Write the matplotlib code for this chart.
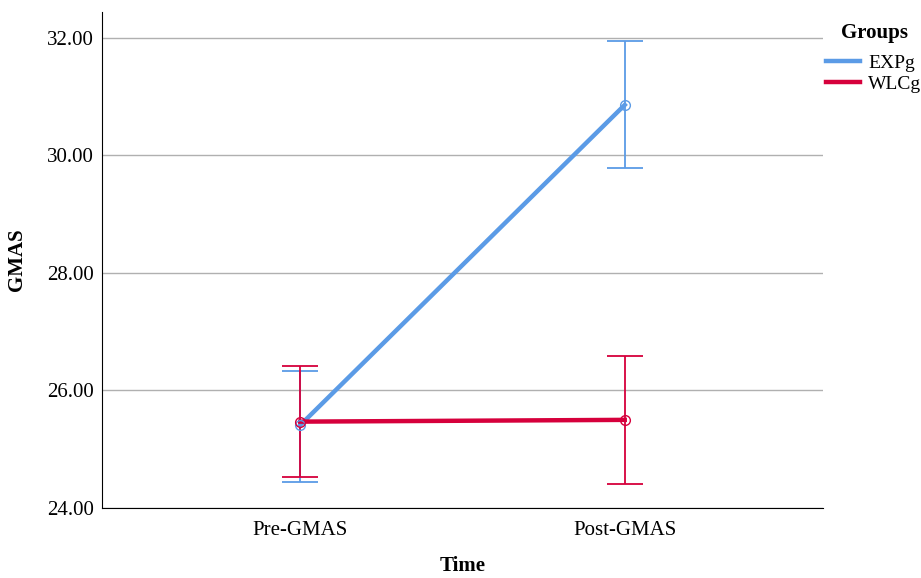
import matplotlib.pyplot as plt

plt.rcParams['font.family'] = ['Liberation Serif', 'DejaVu Serif']

time_labels = ["Pre-GMAS", "Post-GMAS"]
groups = ["EXPg", "WLCg"]
means = {"EXPg": [25.41, 30.86], "WLCg": [25.47, 25.50]}
ci_low = {"EXPg": [24.45, 29.79], "WLCg": [24.52, 24.41]}
ci_high = {"EXPg": [26.34, 31.94], "WLCg": [26.42, 26.58]}
colors = {"EXPg": "#5b9be6", "WLCg": "#d6003c"}
y_ticks = [24, 26, 28, 30, 32]

fig = plt.figure(figsize=(9.21, 5.78), dpi=100)
ax = fig.add_axes([0.1107, 0.1211, 0.7829, 0.858])

x = list(range(len(time_labels)))
for g in groups:
    m = means[g]
    lo = [m[i] - ci_low[g][i] for i in x]
    hi = [ci_high[g][i] - m[i] for i in x]
    ax.errorbar(x, m, yerr=[lo, hi], fmt='none', ecolor=colors[g],
                elinewidth=1.3, capsize=13, capthick=1.3, zorder=3)
    ax.plot(x, m, color=colors[g], lw=3.2, label=g, zorder=4)
    ax.plot(x, m, 'o', ms=7, mfc='none', mec=colors[g], mew=1, zorder=5)

ax.set_xlim(-0.611, 1.611)
ax.set_ylim(24, 32.44)
ax.set_xticks(x)
ax.set_xticklabels(time_labels, fontsize=15)
ax.set_yticks(y_ticks)
ax.set_yticklabels([f"{v:.2f}" for v in y_ticks], fontsize=15)
ax.tick_params(axis='x', length=0, pad=9)
ax.tick_params(axis='y', length=0, pad=6)
ax.yaxis.grid(True, color='#b0b0b0', lw=1)
ax.set_axisbelow(True)
for s in ['top', 'right']:
    ax.spines[s].set_visible(False)
ax.spines['left'].set_color('black')
ax.spines['bottom'].set_color('black')

ax.set_xlabel("Time", fontsize=15, fontweight='bold', labelpad=12)
ax.set_ylabel("GMAS", fontsize=15, fontweight='bold', labelpad=14)

leg = ax.legend(title="Groups", loc='upper left', bbox_to_anchor=(0.994, 0.993),
                frameon=False, fontsize=14, handlelength=1.7,
                handletextpad=0.46, borderaxespad=0.0, labelspacing=0.18)
leg.get_title().set_fontweight('bold')
leg.get_title().set_fontsize(15)
leg._legend_box.sep = 8
for h in leg.get_lines():
    h.set_linewidth(3.2)

fig.savefig("out.png", dpi=100)
